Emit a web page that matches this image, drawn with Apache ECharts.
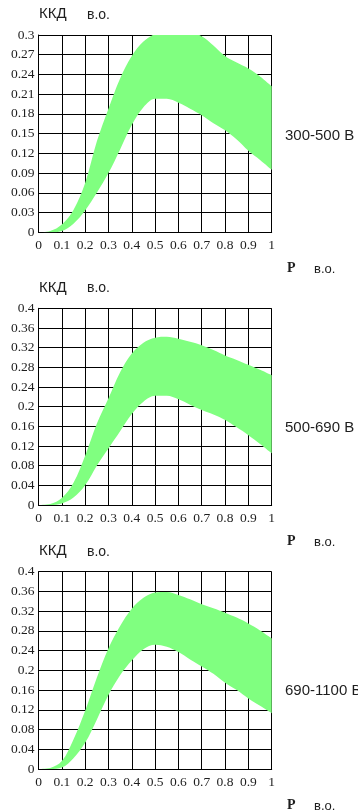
<!DOCTYPE html>
<html>
<head>
<meta charset="utf-8">
<script src="https://cdn.jsdelivr.net/npm/echarts@6/dist/echarts.min.js"></script>
<style>
  html, body { margin: 0; padding: 0; background: #fff; }
  #chart { width: 358px; height: 811px; }
</style>
</head>
<body>
<div id="chart"></div>
<script>
// Relative power P (в.о.)
const powerP = [0, 0.05, 0.1, 0.15, 0.2, 0.25, 0.3, 0.35, 0.4, 0.45, 0.5,
                0.55, 0.6, 0.65, 0.7, 0.75, 0.8, 0.85, 0.9, 0.95, 1.0];

// ККД band, 300-500 В
const kkd300Upper = [0, 0.002, 0.012, 0.034, 0.075, 0.138, 0.188, 0.234, 0.268, 0.29, 0.302,
                     0.31, 0.312, 0.306, 0.298, 0.284, 0.268, 0.258, 0.249, 0.237, 0.222];
const kkd300Lower = [0, 0, 0.002, 0.013, 0.033, 0.06, 0.09, 0.126, 0.163, 0.19, 0.203,
                     0.203, 0.197, 0.188, 0.178, 0.166, 0.155, 0.141, 0.124, 0.11, 0.095];

// ККД band, 500-690 В
const kkd500Upper = [0, 0.002, 0.014, 0.045, 0.1, 0.165, 0.217, 0.27, 0.308, 0.33, 0.34,
                     0.342, 0.338, 0.332, 0.325, 0.315, 0.304, 0.295, 0.285, 0.275, 0.264];
const kkd500Lower = [0, 0, 0.003, 0.015, 0.04, 0.08, 0.115, 0.15, 0.185, 0.21, 0.222,
                     0.222, 0.215, 0.204, 0.193, 0.184, 0.173, 0.158, 0.142, 0.124, 0.105];

// ККД band, 690-1100 В
const kkd690Upper = [0, 0.002, 0.016, 0.06, 0.118, 0.185, 0.245, 0.29, 0.325, 0.347, 0.358,
                     0.359, 0.353, 0.344, 0.334, 0.326, 0.317, 0.307, 0.295, 0.281, 0.265];
const kkd690Lower = [0, 0, 0.003, 0.022, 0.053, 0.1, 0.15, 0.19, 0.22, 0.243, 0.252,
                     0.248, 0.237, 0.222, 0.208, 0.193, 0.175, 0.16, 0.143, 0.128, 0.113];

// Y axis tick settings
const yTicks300 = { min: 0, max: 0.3, interval: 0.03 };
const yTicks500 = { min: 0, max: 0.4, interval: 0.04 };
const yTicks690 = { min: 0, max: 0.4, interval: 0.04 };

const panels = [
  { upper: kkd300Upper, lower: kkd300Lower, y: yTicks300, label: '300-500 В',
    top: 35, height: 197.3, labelY: 136, kkdY: 14, pY: 268 },
  { upper: kkd500Upper, lower: kkd500Lower, y: yTicks500, label: '500-690 В',
    top: 308.3, height: 196.7, labelY: 427.5, kkdY: 287.5, pY: 541.7 },
  { upper: kkd690Upper, lower: kkd690Lower, y: yTicks690, label: '690-1100 В',
    top: 571.7, height: 197.3, labelY: 691, kkdY: 551, pY: 805 }
];

const GREEN = '#80ff80';
const INK = '#1e1e1e';
const serif = '"Liberation Serif", "Times New Roman", serif';
const sans = '"Liberation Sans", Arial, sans-serif';

const fmt = v => String(+(+v).toFixed(2));

const grids = [], xAxes = [], yAxes = [], series = [], graphics = [];

panels.forEach((p, i) => {
  grids.push({ left: 38.5, top: p.top, width: 233.2, height: p.height, containLabel: false });
  xAxes.push({
    type: 'category', gridIndex: i, data: powerP.map(fmt), boundaryGap: false,
    axisLine: { show: true, lineStyle: { color: '#000', width: 1 } },
    axisTick: { show: false },
    splitLine: { show: true, interval: 1, lineStyle: { color: '#000', width: 1 } },
    axisLabel: { color: INK, fontFamily: serif, fontSize: 13.5, margin: 6, interval: 1, showMaxLabel: true }
  });
  yAxes.push({
    type: 'value', gridIndex: i, min: p.y.min, max: p.y.max, interval: p.y.interval,
    axisLine: { show: true, lineStyle: { color: '#000', width: 1 } },
    axisTick: { show: false },
    splitLine: { show: true, lineStyle: { color: '#000', width: 1 } },
    axisLabel: { color: INK, fontFamily: serif, fontSize: 13.5, margin: 4, formatter: fmt }
  });

  const stackId = 'band' + i;
  series.push({
    type: 'line', xAxisIndex: i, yAxisIndex: i, stack: stackId, smooth: 0.35,
    showSymbol: false, lineStyle: { width: 0, opacity: 0 }, silent: true,
    data: p.lower
  });
  series.push({
    type: 'line', xAxisIndex: i, yAxisIndex: i, stack: stackId, smooth: 0.35,
    showSymbol: false, lineStyle: { width: 0, opacity: 0 }, silent: true,
    areaStyle: { color: GREEN, opacity: 1 },
    data: p.upper.map((u, k) => +(u - p.lower[k]).toFixed(4))
  });

  graphics.push(
    { type: 'text', x: 39, y: p.kkdY, style: { text: 'ККД', font: '15px ' + sans, fill: INK, verticalAlign: 'middle' } },
    { type: 'text', x: 87, y: p.kkdY + 1, style: { text: 'в.о.', font: '14px ' + sans, fill: INK, verticalAlign: 'middle' } },
    { type: 'text', x: 285, y: p.labelY, style: { text: p.label, font: '15px ' + sans, fill: INK, verticalAlign: 'middle' } },
    { type: 'text', x: 287, y: p.pY, style: { text: 'P', font: 'bold 14px ' + serif, fill: INK, verticalAlign: 'middle' } },
    { type: 'text', x: 314, y: p.pY + 1, style: { text: 'в.о.', font: '13px ' + sans, fill: INK, verticalAlign: 'middle' } }
  );
});

const chart = echarts.init(document.getElementById('chart'), null, { renderer: 'canvas' });
chart.setOption({
  animation: false,
  backgroundColor: '#fff',
  grid: grids,
  xAxis: xAxes,
  yAxis: yAxes,
  series: series,
  graphic: graphics
});
</script>
</body>
</html>
